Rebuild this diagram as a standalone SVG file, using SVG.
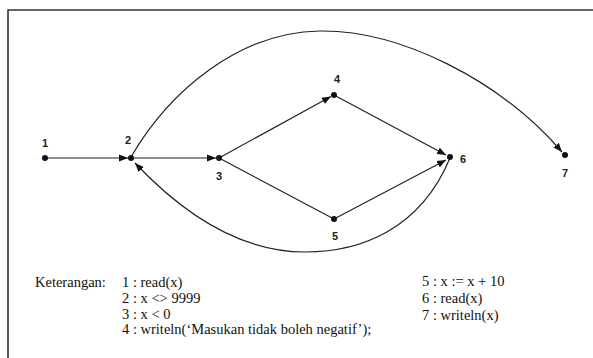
<svg xmlns="http://www.w3.org/2000/svg" width="593" height="358" viewBox="0 0 593 358">
<style>
.frame{fill:none;stroke:#333;stroke-width:1.6}
.edge{fill:none;stroke:#222;stroke-width:1.2}
.dot{fill:#111}
.nl{font-family:"Liberation Sans",Arial,sans-serif;font-weight:bold;font-size:11px;fill:#222;text-anchor:middle}
.lg{font-family:"Liberation Serif","Times New Roman",serif;font-size:14.5px;fill:#111}
</style>
<defs>
<marker id="ah" viewBox="0 0 10 8" refX="10" refY="4" markerWidth="9" markerHeight="8" markerUnits="userSpaceOnUse" orient="auto">
<path d="M0,0 L10,4 L0,8 z" fill="#111"/>
</marker>
</defs>
<rect width="593" height="358" fill="#fff"/>
<path class="frame" d="M8,358 L8,10 L593,10"/>
<g id="connectors">
<line class="edge" x1="45" y1="158" x2="128" y2="158" marker-end="url(#ah)"/>
<line class="edge" x1="131" y1="158" x2="216" y2="158" marker-end="url(#ah)"/>
<line class="edge" x1="219" y1="158" x2="331" y2="96.5" marker-end="url(#ah)"/>
<line class="edge" x1="334" y1="95" x2="446" y2="155" marker-end="url(#ah)"/>
<line class="edge" x1="219" y1="158" x2="334" y2="219"/>
<line class="edge" x1="334" y1="219" x2="446" y2="160" marker-end="url(#ah)"/>
<path class="edge" d="M131,157 C170,90 240,32 320,31 C400,30 500,80 562,152" marker-end="url(#ah)"/>
<path class="edge" d="M450,158 C420,230 360,252 305,252 C230,252 170,200 135,163" marker-end="url(#ah)"/>
</g>
<g id="n1"><circle class="dot" cx="45" cy="158" r="3"/><text class="nl" x="45" y="147">1</text></g>
<g id="n2"><circle class="dot" cx="131" cy="158" r="3"/><text class="nl" x="128" y="144">2</text></g>
<g id="n3"><circle class="dot" cx="219" cy="158" r="3"/><text class="nl" x="219" y="180">3</text></g>
<g id="n4"><circle class="dot" cx="334" cy="95" r="3"/><text class="nl" x="337" y="83">4</text></g>
<g id="n5"><circle class="dot" cx="334" cy="219" r="3"/><text class="nl" x="335" y="240">5</text></g>
<g id="n6"><circle class="dot" cx="450" cy="157" r="3"/><text class="nl" x="463" y="163">6</text></g>
<g id="n7"><circle class="dot" cx="565" cy="155" r="3"/><text class="nl" x="565" y="177">7</text></g>
<g id="legend">
<text class="lg" x="35" y="287">Keterangan:</text>
<text class="lg" x="122" y="287">1 : read(x)</text>
<text class="lg" x="122" y="303">2 : x &lt;&gt; 9999</text>
<text class="lg" x="122" y="319">3 : x &lt; 0</text>
<text class="lg" x="122" y="334">4 : writeln(‘Masukan tidak boleh negatif’);</text>
<text class="lg" x="422" y="286">5 : x := x + 10</text>
<text class="lg" x="422" y="303">6 : read(x)</text>
<text class="lg" x="422" y="320">7 : writeln(x)</text>
</g>
</svg>
